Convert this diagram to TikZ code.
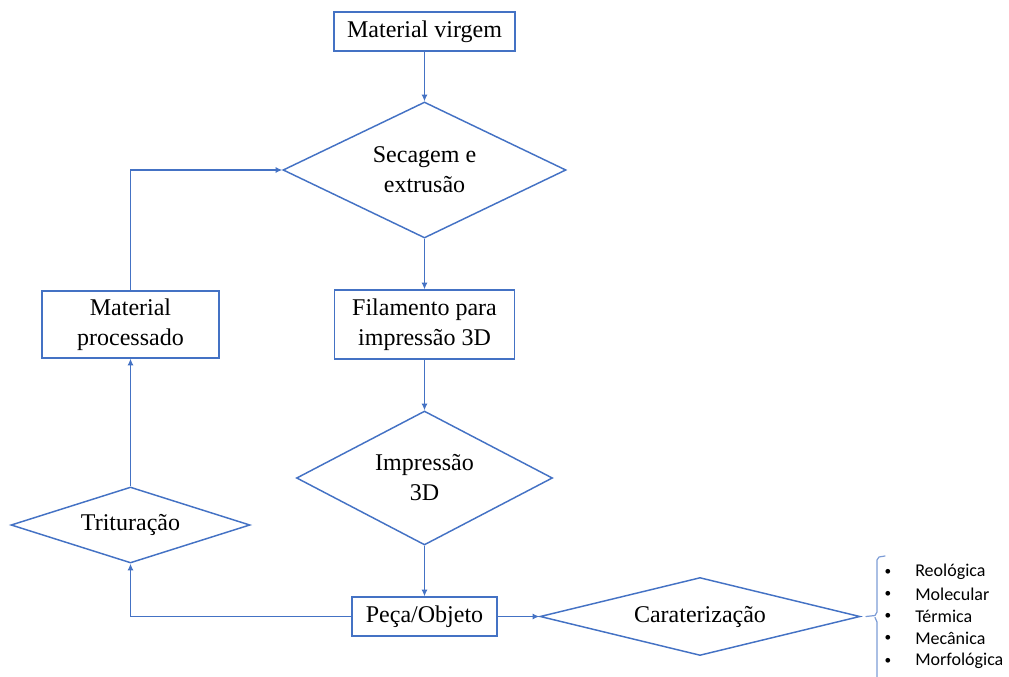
\documentclass[tikz,border=0pt]{standalone}
\usepackage{fontspec}
\setmainfont{Liberation Serif}
\newfontfamily\listfont{Carlito}
\usetikzlibrary{shapes.geometric,arrows.meta}
\definecolor{flowblue}{HTML}{4472C4}
\tikzset{
  stepbox/.style={draw=flowblue, line width=1.1pt, fill=white, inner sep=0pt,
    align=center, font=\fontsize{18}{22.5}\selectfont},
  decision/.style={draw=flowblue, line width=1.1pt, diamond, inner sep=0pt,
    align=center, font=\fontsize{18}{22.5}\selectfont},
  flow/.style={draw=flowblue, line width=0.8pt, -{Latex[length=5pt,width=4.5pt]}},
  bracket/.style={draw=flowblue!70, line width=0.9pt, line cap=round, line join=round},
  item/.style={anchor=west, inner sep=0pt, font=\listfont\fontsize{13.5}{16}\selectfont},
  dot/.style={inner sep=0pt, font=\listfont\fontsize{10}{12}\selectfont}
}
\begin{document}
\begin{tikzpicture}[x=0.75pt,y=-0.75pt]
\useasboundingbox (0,0) rectangle (1009,677);

% process boxes
\node[stepbox, minimum width=181*0.75pt, minimum height=39*0.75pt] (mv) at (424.5,31.5) {Material virgem};
\node[stepbox, minimum width=180*0.75pt, minimum height=69*0.75pt] (fil) at (424.5,324.5) {Filamento para\\impressão 3D};
\node[stepbox, minimum width=177*0.75pt, minimum height=67*0.75pt] (mp) at (130.5,324.5) {Material\\processado};
\node[stepbox, minimum width=145*0.75pt, minimum height=39*0.75pt] (peca) at (424.5,616.5) {Peça/Objeto};

% decision shapes
\node[decision, shape aspect=2.08, minimum width=283*0.75pt, minimum height=136*0.75pt] (sec) at (424.5,170) {Secagem e\\extrusão};
\node[decision, shape aspect=1.9, minimum width=256*0.75pt, minimum height=134*0.75pt] (imp) at (424.5,478) {Impressão\\3D};
\node[decision, shape aspect=3.1, minimum width=239*0.75pt, minimum height=76*0.75pt] (trit) at (130.5,525) {Trituração};
\node[decision, shape aspect=4.1, minimum width=320*0.75pt, minimum height=78*0.75pt] (car) at (700,616.5) {Caraterização};

% connectors
\draw[flow] (mv.south) -- (sec.north);
\draw[flow] (sec.south) -- (fil.north);
\draw[flow] (fil.south) -- (imp.north);
\draw[flow] (imp.south) -- (peca.north);
\draw[flow] (peca.east) -- (car.west);
\draw[flow] (peca.west) -| (trit.south);
\draw[flow] (trit.north) -- (mp.south);
\draw[flow] (mp.north) |- (sec.west);

% bracket listing the characterisation types
\coordinate (btip) at (866,616.5);
\draw[bracket] (885,556) -- (879,557) -- (877,560) -- (877,612) -- (875,615.5) -- (btip)
  (875,617.5) -- (877,622) -- (877,690);

\foreach \y/\t [count=\i] in {572/Reológica, 594/Molecular, 616/Térmica, 638/Mecânica, 661/Morfológica}{
  \node[dot] (b\i) at (888,\y) {•};
  \node[item] (t\i) at (915,\y) {\t};
}
\end{tikzpicture}
\end{document}
